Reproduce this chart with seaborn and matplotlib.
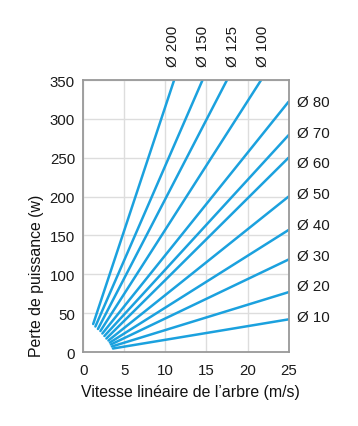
import pandas as pd
import matplotlib
matplotlib.use("Agg")
import matplotlib.pyplot as plt
import seaborn as sns

# Shaft diameters and the two ends of each loss line
diameters = ["Ø 10", "Ø 20", "Ø 30", "Ø 40", "Ø 50", "Ø 60", "Ø 70", "Ø 80",
             "Ø 100", "Ø 125", "Ø 150", "Ø 200"]
v_start = [3.6, 3.47, 3.35, 3.23, 3.05, 2.8, 2.56, 2.31, 2.07, 1.77, 1.46, 1.19]
p_start = [4.5, 7.1, 9.7, 12.2, 14.8, 17.4, 20.6, 23.8, 27.0, 29.6, 32.8, 36.0]
v_end = [25, 25, 25, 25, 25, 25, 25, 25, 21.66, 17.5, 14.52, 11.06]
p_end = [42, 77, 119, 157, 200, 250, 279, 322, 350, 350, 350, 350]

right_labels = diameters[:8]
top_labels = ["Ø 200", "Ø 150", "Ø 125", "Ø 100"]

rows = []
for d, x0, y0, x1, y1 in zip(diameters, v_start, p_start, v_end, p_end):
    rows.append({"diam": d, "v": x0, "p": y0})
    rows.append({"diam": d, "v": x1, "p": y1})
df = pd.DataFrame(rows)

sns.set_style("white")
plt.rcParams["font.family"] = ["Liberation Sans", "DejaVu Sans"]

fig = plt.figure(figsize=(3.58, 4.27), dpi=100)
ax = fig.add_axes([0.233, 0.1733, 0.573, 0.637])

blue = "#1ba1de"
sns.lineplot(data=df, x="v", y="p", hue="diam", palette=[blue] * len(diameters),
             legend=False, linewidth=1.8, ax=ax, sort=False)

ax.set_xlim(0, 25)
ax.set_ylim(0, 350)
ax.set_xticks([0, 5, 10, 15, 20, 25])
ax.set_yticks(range(0, 351, 50))
ax.grid(True, color="#dddddd", linewidth=1)
ax.set_axisbelow(True)
for s in ax.spines.values():
    s.set_color("#999999")
    s.set_linewidth(1.3)
ax.tick_params(axis="both", colors="#999999", labelcolor="#1a1a1a", labelsize=10.8,
               length=3, width=1, direction="out")
ax.tick_params(axis="x", pad=5)
ax.tick_params(axis="y", pad=3)

ax.set_xlabel("Vitesse linéaire de l’arbre (m/s)", fontsize=11.4, color="#111111")
ax.set_ylabel("Perte de puissance (w)", fontsize=11.4, color="#111111")
ax.xaxis.set_label_coords(0.524, -0.118)
ax.yaxis.set_label_coords(-0.19, 0.283)

# labels on the right side
for i, lab in enumerate(right_labels):
    ax.text(1.04, 0.129 + i * (0.919 - 0.129) / 7, lab, transform=ax.transAxes,
            ha="left", va="center", fontsize=10.8, color="#1a1a1a")
# labels on top
for i, lab in enumerate(top_labels):
    ax.text(0.4376 + i * (0.876 - 0.4376) / 3, 1.051, lab, transform=ax.transAxes,
            ha="center", va="bottom", rotation=90, fontsize=10.8, color="#1a1a1a")

fig.savefig("out.png", dpi=100)
